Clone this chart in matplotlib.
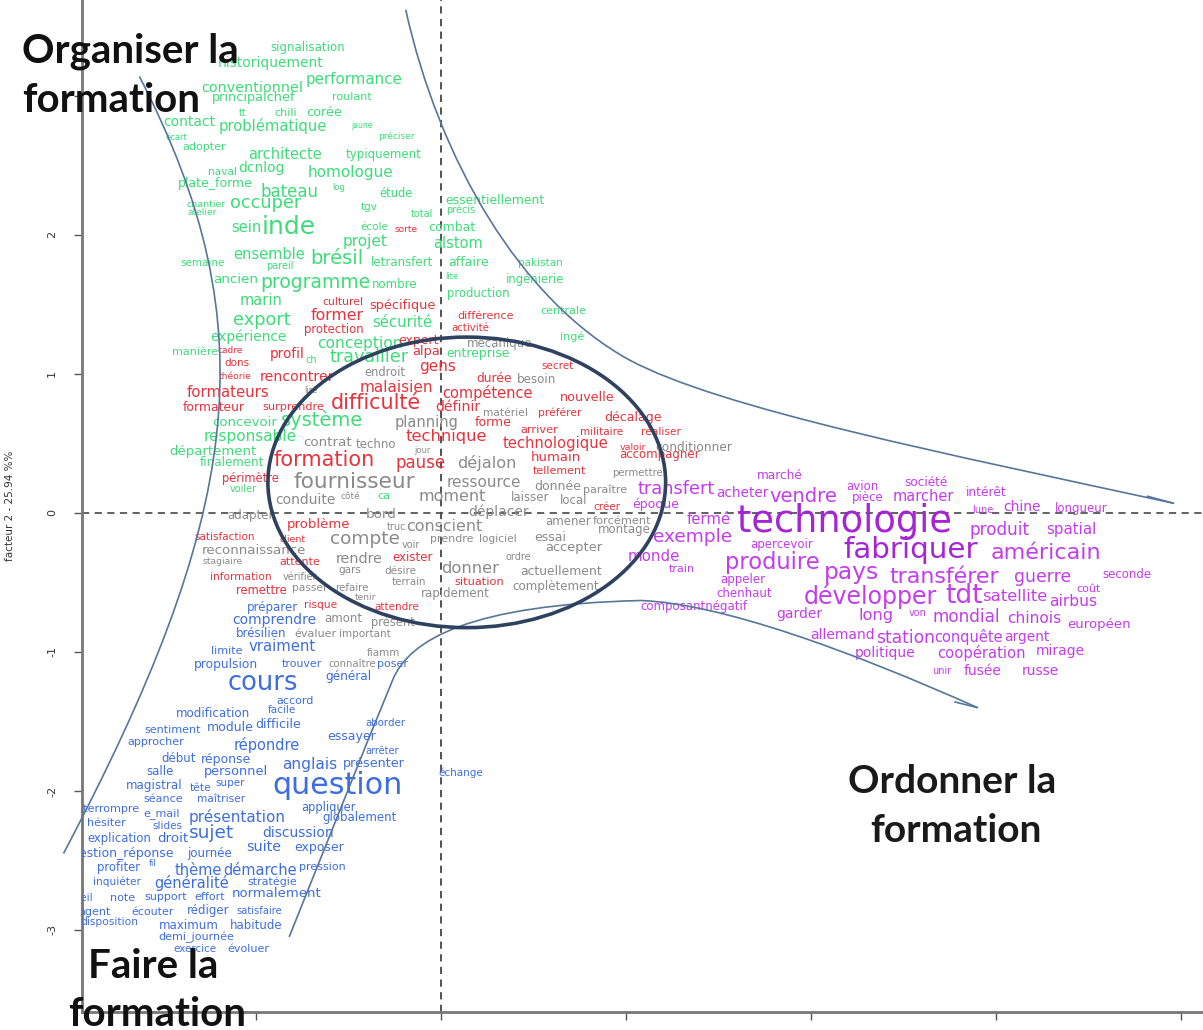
import matplotlib.pyplot as plt
from matplotlib.patches import Ellipse, PathPatch
from matplotlib.path import Path

# ---- mots du groupe "organiser" (vert)
green_words = ["signalisation", "historiquement", "conventionnel", "performance", "principalchef",
               "roulant", "tt", "chili", "corée", "contact", "problématique", "jaune", "préciser",
               "écart", "adopter", "architecte", "typiquement", "naval", "dcnlog", "homologue",
               "plate_forme", "bateau", "log", "étude", "chantier", "occuper", "tgv", "atelier",
               "sein", "inde", "école", "projet", "ensemble", "brésil", "semaine", "pareil",
               "letransfert", "ancien", "programme", "nombre", "marin", "export", "sécurité",
               "expérience", "conception", "manière", "ch", "travailler", "concevoir", "système",
               "responsable", "département", "finalement", "voiler", "ca", "essentiellement",
               "précis", "total", "combat", "alstom", "affaire", "pakistan", "lite", "ingénierie",
               "production", "centrale", "ingé", "entreprise"]
green_x = [-0.72, -0.92, -1.02, -0.47, -1.01, -0.48, -1.07, -0.84, -0.63, -1.36, -0.91, -0.43, -0.24,
           -1.43, -1.28, -0.84, -0.31, -1.18, -0.97, -0.49, -1.22, -0.82, -0.55, -0.24, -1.27, -0.95,
           -0.39, -1.29, -1.05, -0.82, -0.36, -0.41, -0.93, -0.56, -1.29, -0.87, -0.21, -1.11, -0.68,
           -0.25, -0.97, -0.97, -0.21, -1.04, -0.44, -1.33, -0.70, -0.39, -1.06, -0.64, -1.03, -1.23,
           -1.13, -1.07, -0.31, 0.29, 0.11, -0.10, 0.06, 0.09, 0.15, 0.54, 0.06, 0.51, 0.20, 0.66,
           0.71, 0.20]
green_y = [3.35, 3.24, 3.06, 3.12, 2.99, 2.99, 2.88, 2.88, 2.88, 2.81, 2.78, 2.79, 2.71, 2.70, 2.63,
           2.58, 2.58, 2.45, 2.48, 2.45, 2.37, 2.31, 2.34, 2.30, 2.22, 2.23, 2.20, 2.16, 2.05, 2.06,
           2.06, 1.95, 1.86, 1.83, 1.80, 1.78, 1.80, 1.68, 1.66, 1.64, 1.53, 1.39, 1.37, 1.27, 1.22,
           1.16, 1.10, 1.12, 0.65, 0.67, 0.55, 0.44, 0.36, 0.17, 0.12, 2.25, 2.18, 2.15, 2.05, 1.94,
           1.80, 1.80, 1.70, 1.68, 1.58, 1.45, 1.27, 1.15]
green_freq = [8.5, 10, 10.4, 10.8, 9.3, 8, 7, 8, 9.3, 10, 10.6, 5.5, 6.5, 6, 8, 10.5, 8.5, 7.7, 10,
              11, 9, 12, 6, 8.3, 6.8, 12.8, 7.5, 6.5, 10.5, 18, 7.5, 11, 10.5, 14, 7.5, 7, 8.5, 9.7,
              13.5, 8.5, 10.5, 12.8, 10.7, 9.9, 11.2, 8, 7, 12.7, 9.5, 14, 11, 9.5, 8.6, 7, 8, 8.9,
              7, 7, 9, 10.5, 9, 7.5, 6, 8.4, 8.4, 8, 8, 8.9]

# ---- mots "formateurs / difficultés" (rouge)
red_words = ["sorte", "culturel", "spécifique", "former", "protection", "différence", "activité",
             "expert", "cadre", "dons", "profil", "alpa", "gens", "secret", "théorie", "rencontrer",
             "malaisien", "durée", "formateurs", "compétence", "nouvelle", "formateur", "surprendre",
             "difficulté", "définir", "préférer", "décalage", "forme", "arriver", "militaire",
             "réaliser", "technique", "technologique", "valoir", "accompagner", "humain", "formation",
             "pause", "tellement", "périmètre", "créer", "problème", "satisfaction", "client",
             "exister", "attente", "information", "situation", "remettre", "risque", "attendre"]
red_x = [-0.19, -0.53, -0.21, -0.56, -0.58, 0.24, 0.16, -0.12, -1.14, -1.10, -0.83, -0.08, -0.02,
         0.63, -1.11, -0.78, -0.24, 0.29, -1.15, 0.25, 0.79, -1.23, -0.80, -0.35, 0.09, 0.64, 1.04,
         0.28, 0.53, 0.87, 1.19, 0.03, 0.62, 1.04, 1.18, 0.62, -0.63, -0.11, 0.64, -1.03, 0.90, -0.66,
         -1.17, -0.80, -0.15, -0.76, -1.08, 0.21, -0.97, -0.65, -0.24]
red_y = [2.04, 1.52, 1.49, 1.42, 1.32, 1.42, 1.33, 1.24, 1.17, 1.08, 1.14, 1.16, 1.05, 1.06, 0.98,
         0.98, 0.90, 0.97, 0.87, 0.86, 0.83, 0.76, 0.76, 0.79, 0.76, 0.72, 0.69, 0.65, 0.60, 0.58,
         0.58, 0.55, 0.50, 0.47, 0.42, 0.40, 0.38, 0.36, 0.30, 0.25, 0.04, -0.08, -0.17, -0.19, -0.32,
         -0.35, -0.46, -0.50, -0.56, -0.66, -0.68]
red_freq = [6.5, 7.8, 9.3, 11.3, 8.4, 8, 7.3, 9, 6.5, 7.5, 9.8, 9.4, 11, 7.5, 6.6, 10.2, 11, 8.9,
            10.7, 10.5, 9.2, 8.9, 8.1, 14.9, 10.1, 7.7, 9, 9, 8.2, 7.5, 7.7, 11.8, 10.6, 6.8, 8.5,
            9.5, 15, 12, 7.9, 8.3, 7.5, 9.5, 7.5, 6.8, 8.5, 8, 7.6, 8.2, 8.3, 7.7, 7.5]

# ---- mots neutres (gris)
gray_words = ["mécanique", "endroit", "besoin", "lire", "matériel", "conditionner", "planning",
              "contrat", "techno", "jour", "déjalon", "permettre", "fournisseur", "ressource", "donnée",
              "paraître", "conduite", "côté", "moment", "laisser", "local", "adapter", "bord",
              "déplacer", "amener", "forcément", "montage", "truc", "conscient", "compte", "voir",
              "prendre", "logiciel", "essai", "accepter", "reconnaissance", "rendre", "ordre",
              "stagiaire", "gars", "désire", "donner", "actuellement", "vérifier", "terrain",
              "complètement", "passer", "refaire", "tenir", "rapidement", "amont", "présent",
              "évaluer", "important", "fiamm", "connaître"]
gray_x = [0.32, -0.30, 0.52, -0.70, 0.35, 1.37, -0.08, -0.61, -0.35, -0.10, 0.25, 1.06, -0.47, 0.23,
          0.63, 0.89, -0.73, -0.49, 0.06, 0.48, 0.72, -1.03, -0.32, 0.31, 0.69, 0.98, 0.99, -0.24,
          0.02, -0.41, -0.16, 0.06, 0.31, 0.59, 0.72, -1.01, -0.44, 0.42, -1.18, -0.49, -0.22, 0.16,
          0.65, -0.76, -0.17, 0.62, -0.71, -0.48, -0.41, 0.08, -0.53, -0.26, -0.68, -0.41, -0.31,
          -0.48]
gray_y = [1.22, 1.01, 0.96, 0.88, 0.72, 0.47, 0.65, 0.51, 0.49, 0.45, 0.36, 0.29, 0.22, 0.22, 0.19,
          0.17, 0.09, 0.12, 0.12, 0.11, 0.09, -0.02, -0.01, 0.01, -0.06, -0.06, -0.12, -0.10, -0.10,
          -0.19, -0.23, -0.19, -0.19, -0.18, -0.25, -0.27, -0.33, -0.32, -0.35, -0.41, -0.42, -0.40,
          -0.42, -0.46, -0.50, -0.53, -0.54, -0.54, -0.61, -0.58, -0.76, -0.79, -0.87, -0.87, -1.01,
          -1.09]
gray_freq = [8.5, 8.3, 8.6, 6, 7.7, 8.8, 10.5, 9.6, 8.5, 6, 11.6, 7.3, 15.6, 11, 9, 8, 10, 6.5,
             11.5, 8.5, 8.5, 8.5, 9.7, 10, 8.5, 8.2, 8.5, 7, 11.4, 13.3, 7, 7.9, 7.6, 9, 9.4, 9.6,
             10.4, 7, 6.7, 7.5, 7.5, 11.8, 8.9, 7, 7.4, 8.6, 7.7, 7.4, 6.5, 8.5, 8.5, 8.3, 8, 7.5,
             7.5, 7.3]

# ---- mots "faire la formation" (bleu)
blue_words = ["préparer", "comprendre", "brésilien", "limite", "vraiment", "propulsion", "trouver",
              "poser", "général", "cours", "accord", "modification", "facile", "sentiment", "module",
              "difficile", "aborder", "approcher", "répondre", "essayer", "arrêter", "début",
              "réponse", "anglais", "présenter", "salle", "personnel", "question", "magistral",
              "tête", "super", "échange", "séance", "maîtriser", "appliquer", "interrompre",
              "e_mail", "présentation", "globalement", "hésiter", "slides", "sujet", "discussion",
              "explication", "droit", "suite", "exposer", "question_réponse", "journée", "profiter",
              "fil", "thème", "démarche", "pression", "inquiéter", "généralité", "stratégie",
              "normalement", "conseil", "note", "support", "effort", "agent", "écouter", "rédiger",
              "satisfaire", "disposition", "maximum", "habitude", "demi_journée", "exercice",
              "évoluer"]
blue_x = [-0.91, -0.90, -0.97, -1.16, -0.86, -1.16, -0.75, -0.26, -0.50, -0.96, -0.79, -1.23, -0.86,
          -1.45, -1.14, -0.88, -0.30, -1.54, -0.94, -0.48, -0.32, -1.42, -1.16, -0.71, -0.36, -1.52,
          -1.11, -0.56, -1.55, -1.30, -1.14, 0.11, -1.50, -1.19, -0.61, -1.81, -1.51, -1.10, -0.44,
          -1.81, -1.48, -1.24, -0.77, -1.74, -1.45, -0.96, -0.66, -1.74, -1.25, -1.74, -1.56, -1.31,
          -0.98, -0.64, -1.75, -1.35, -0.91, -0.89, -1.98, -1.72, -1.49, -1.25, -1.87, -1.56, -1.26,
          -0.98, -1.79, -1.36, -1.00, -1.32, -1.33, -1.04]
blue_y = [-0.68, -0.77, -0.87, -0.99, -0.96, -1.09, -1.09, -1.09, -1.18, -1.22, -1.35, -1.44, -1.42,
          -1.56, -1.54, -1.52, -1.51, -1.65, -1.67, -1.61, -1.71, -1.77, -1.77, -1.81, -1.80, -1.86,
          -1.86, -1.96, -1.96, -1.98, -1.94, -1.87, -2.06, -2.06, -2.12, -2.13, -2.16, -2.19, -2.19,
          -2.23, -2.25, -2.30, -2.30, -2.34, -2.34, -2.40, -2.41, -2.45, -2.45, -2.55, -2.52, -2.57,
          -2.57, -2.55, -2.65, -2.66, -2.65, -2.74, -2.77, -2.77, -2.76, -2.76, -2.87, -2.87, -2.86,
          -2.86, -2.94, -2.97, -2.97, -3.05, -3.14, -3.14]
blue_freq = [8.5, 10, 8.5, 8, 10.7, 8.8, 7.9, 8, 8.7, 18.5, 8, 8.6, 7.5, 8, 9, 9, 7.4, 8, 10.5, 9,
             7, 8.5, 9, 11.1, 9.2, 8.5, 9.3, 21.7, 8.6, 7.7, 7.5, 7.5, 8, 7.7, 8.3, 8, 8, 11, 8.5, 8,
             7.5, 13.3, 10, 8.4, 9.6, 10.3, 9, 9, 8.5, 8.4, 6, 10.5, 10.5, 8, 7.6, 10.5, 7.9, 9.5,
             7.5, 8, 8, 8, 8, 7.9, 8.5, 7.1, 7.7, 8.6, 8.5, 8, 7.4, 8]

# ---- mots "ordonner la formation" (violet)
mag_words = ["marché", "avion", "société", "intérêt", "transfert", "acheter", "vendre", "pièce",
             "marcher", "époque", "lune", "chine", "longueur", "fermé", "technologie", "produit",
             "spatial", "exemple", "apercevoir", "fabriquer", "américain", "monde", "produire",
             "train", "pays", "transférer", "guerre", "seconde", "appeler", "coût", "chenhaut",
             "développer", "tdt", "satellite", "airbus", "composantnégatif", "garder", "long", "von",
             "mondial", "chinois", "européen", "allemand", "station", "conquête", "argent",
             "politique", "coopération", "mirage", "unir", "fusée", "russe"]
mag_x = [1.83, 2.28, 2.62, 2.95, 1.27, 1.63, 1.96, 2.31, 2.61, 1.16, 2.93, 3.14, 3.46, 1.45, 2.18,
         3.02, 3.41, 1.36, 1.84, 2.54, 3.27, 1.15, 1.79, 1.30, 2.22, 2.72, 3.25, 3.71, 1.63, 3.50,
         1.64, 2.32, 2.83, 3.10, 3.42, 1.37, 1.94, 2.35, 2.58, 2.84, 3.21, 3.56, 2.17, 2.51, 2.85,
         3.17, 2.40, 2.92, 3.35, 2.71, 2.93, 3.24]
mag_y = [0.27, 0.19, 0.22, 0.15, 0.17, 0.14, 0.12, 0.11, 0.12, 0.06, 0.02, 0.04, 0.03, -0.05, -0.06,
         -0.12, -0.12, -0.17, -0.23, -0.27, -0.29, -0.31, -0.36, -0.40, -0.43, -0.46, -0.46, -0.44,
         -0.48, -0.55, -0.58, -0.60, -0.60, -0.60, -0.64, -0.67, -0.73, -0.74, -0.72, -0.75, -0.76,
         -0.80, -0.88, -0.90, -0.89, -0.89, -1.01, -1.01, -0.99, -1.14, -1.14, -1.14]
mag_freq = [8.7, 8.5, 8.7, 8.8, 12.8, 9.8, 14, 8.5, 10.5, 9, 7, 10, 8.5, 10.7, 26.5, 12.2, 10.8,
            13.3, 8.5, 21.2, 16, 10.8, 16.3, 8, 16.8, 15.9, 12.4, 8.5, 8.5, 8, 8.5, 17.1, 19, 11.8,
            11.2, 8.5, 10, 11.7, 7, 12.2, 11.1, 9.5, 10, 12.3, 10.5, 9.9, 10, 10.6, 10, 7, 10, 10]

# contours dessinés à la main (points de contrôle de Bézier)
left_curve = [(-1.63, 3.14), (-0.92, 1.32), (-1.09, -0.05), (-2.04, -2.45)]
top_curve = [(-0.19, 3.62), (-0.01, 2.54), (0.43, 1.53), (1.02, 1.10),
             (1.51, 0.75), (2.75, 0.42), (3.96, 0.07)]
top_tip = [(3.96, 0.07), (3.82, 0.12)]
low_curve = [(-0.82, -3.05), (-0.63, -2.42), (-0.44, -1.78), (-0.26, -1.20),
             (-0.17, -0.91), (0.16, -0.66), (1.08, -0.63),
             (1.51, -0.65), (2.21, -0.99), (2.90, -1.40)]
low_tip = [(2.90, -1.40), (2.78, -1.36)]

yticks = [-3, -2, -1, 0, 1, 2, 3]
ytick_labels = ["-3", "-2", "-1", "0", "1", "2", ""]

fig = plt.figure(figsize=(12.03, 10.30), dpi=100)
ax = fig.add_axes([82 / 1203, 18 / 1030, 1 - 82 / 1203, 1 - 18 / 1030])
ax.set_xlim(-1.94, 4.12)
ax.set_ylim(-3.59, 3.69)

for s in ["top", "right"]:
    ax.spines[s].set_visible(False)
for s in ["left", "bottom"]:
    ax.spines[s].set_color("#777777")
    ax.spines[s].set_linewidth(2)

ax.set_xticks([-1, 0, 1, 2, 3, 4])
ax.set_xticklabels([])
ax.set_yticks(yticks)
ax.set_yticklabels(ytick_labels, rotation=90, va="center", fontsize=8, color="#333333")
ax.tick_params(axis="both", length=6, width=1, color="#555555", pad=12)
ax.set_ylabel("facteur 2 - 25.94 %%", fontsize=7.5, color="#333333")
ax.yaxis.set_label_coords(-0.06, 0.5)

ax.axhline(0, color="#555555", lw=1.3, ls=(0, (4, 3)), zorder=1)
ax.axvline(0, color="#444444", lw=1.3, ls=(0, (4, 3)), zorder=1)

groups = [
    (green_words, green_x, green_y, green_freq, "#3ddc79"),
    (red_words, red_x, red_y, red_freq, "#e8323c"),
    (gray_words, gray_x, gray_y, gray_freq, "#8a8a8a"),
    (blue_words, blue_x, blue_y, blue_freq, "#3d6ee0"),
    (mag_words, mag_x, mag_y, mag_freq, "#c43ced"),
]
for words, xs, ys, fr, col in groups:
    for w, x, y, f in zip(words, xs, ys, fr):
        c = col
        if col == "#c43ced" and f > 20:
            c = "#a524d6"
        ax.text(x, y, w, fontsize=f, color=c, ha="center", va="center", zorder=3, clip_on=True)


def bezier(pts):
    codes = [Path.MOVETO] + [Path.CURVE4] * (len(pts) - 1)
    return Path(pts, codes)


# contours
cc = "#56769a"
for pts in [left_curve, top_curve, low_curve]:
    ax.add_patch(PathPatch(bezier(pts), fill=False, edgecolor=cc, lw=1.2, zorder=4, clip_on=False))
for tip in [top_tip, low_tip]:
    ax.plot([p[0] for p in tip], [p[1] for p in tip], color=cc, lw=1.2, zorder=4)
ax.add_patch(Ellipse((0.14, 0.22), 2.15, 2.09, fill=False, edgecolor="#2e4260", lw=2.6, zorder=5))

# titres des zones
fig.text(22 / 1203, 1 - 62 / 1030, "Organiser la", fontsize=29, fontweight="bold",
         family="Lato", va="baseline", ha="left", color="#111111")
fig.text(22 / 1203, 1 - 112 / 1030, "formation", fontsize=29, fontweight="bold",
         family="Lato", va="baseline", ha="left", color="#111111")
fig.text(88 / 1203, 1 - 978 / 1030, "Faire la", fontsize=29, fontweight="bold",
         family="Lato", va="baseline", ha="left", color="#111111")
fig.text(68 / 1203, 1 - 1026 / 1030, "formation", fontsize=29, fontweight="bold",
         family="Lato", va="baseline", ha="left", color="#111111")
fig.text(848 / 1203, 1 - 793 / 1030, "Ordonner la", fontsize=28, fontweight="bold",
         family="Lato", va="baseline", ha="left", color="#1a1a1a")
fig.text(870 / 1203, 1 - 842 / 1030, "formation", fontsize=28, fontweight="bold",
         family="Lato", va="baseline", ha="left", color="#1a1a1a")

fig.savefig("out.png", dpi=100)
